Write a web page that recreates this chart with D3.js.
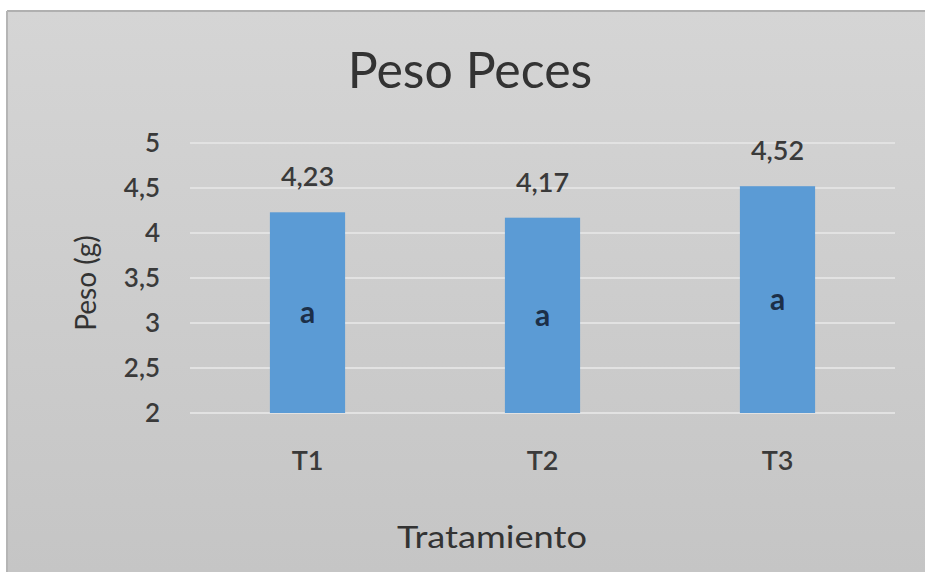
<!DOCTYPE html>
<html><head><meta charset="utf-8">
<script src="https://cdn.jsdelivr.net/npm/d3@7"></script>
<style>body{margin:0;background:#fff}svg{display:block}text{font-family:Lato,"Open Sans",sans-serif;fill:#3a3a3a;font-weight:600}</style>
</head><body><svg id="c" width="925" height="572"></svg>
<script>
const categories = ["T1","T2","T3"];
const values = [4.23, 4.17, 4.52];
const valueLabels = ["4,23","4,17","4,52"];
const letters = ["a","a","a"];
const yTicks = [2,2.5,3,3.5,4,4.5,5];
const yTickLabels = ["2","2,5","3","3,5","4","4,5","5"];

const svg = d3.select("#c");
const defs = svg.append("defs");
const g1 = defs.append("linearGradient").attr("id","bg").attr("x1",0).attr("y1",0).attr("x2",0).attr("y2",1);
g1.append("stop").attr("offset","0%").attr("stop-color","#d5d5d5");
g1.append("stop").attr("offset","100%").attr("stop-color","#c5c5c5");
svg.append("rect").attr("x",7).attr("y",11).attr("width",918).attr("height",561)
  .attr("fill","url(#bg)");
svg.append("line").attr("x1",7).attr("x2",925).attr("y1",11).attr("y2",11).attr("stroke","#b0b0b0").attr("stroke-width",2);
svg.append("line").attr("x1",7).attr("x2",7).attr("y1",11).attr("y2",572).attr("stroke","#b5b5b5").attr("stroke-width",2);

const x = d3.scaleBand().domain(categories).range([190,895]).paddingInner(0.68).paddingOuter(0.34);
const y = d3.scaleLinear().domain([2,5]).range([413,143]);

svg.append("g").selectAll("line").data(yTicks).join("line")
  .attr("x1",190).attr("x2",895).attr("y1",d=>y(d)).attr("y2",d=>y(d))
  .attr("stroke","#e2e2e2").attr("stroke-width",2);

svg.append("g").selectAll("text").data(yTicks).join("text")
  .attr("x",160).attr("y",d=>y(d)).attr("dy","0.36em").attr("text-anchor","end")
  .attr("font-size",26).text((d,i)=>yTickLabels[i]);

svg.append("g").selectAll("rect").data(values).join("rect")
  .attr("x",(d,i)=>x(categories[i])).attr("width",x.bandwidth())
  .attr("y",d=>y(d)).attr("height",d=>y(2)-y(d)).attr("fill","#5b9bd5");

svg.append("g").selectAll("text").data(values).join("text")
  .attr("x",(d,i)=>x(categories[i])+x.bandwidth()/2).attr("y",d=>y(d)-26)
  .attr("text-anchor","middle").attr("font-size",27).text((d,i)=>valueLabels[i]);

svg.append("g").selectAll("text").data(values).join("text")
  .attr("x",(d,i)=>x(categories[i])+x.bandwidth()/2).attr("y",d=>y((d+2)/2))
  .attr("dy","0.36em").attr("text-anchor","middle").attr("font-size",30)
  .style("fill","#1c2f48").style("font-weight","700").text((d,i)=>letters[i]);

svg.append("g").selectAll("text").data(categories).join("text")
  .attr("x",d=>x(d)+x.bandwidth()/2).attr("y",460).attr("dy","0.36em")
  .attr("text-anchor","middle").attr("font-size",27).text(d=>d);

svg.append("text").attr("x",492).attr("y",537).attr("dy","0.36em").attr("text-anchor","middle")
  .attr("font-size",30).attr("textLength",190).attr("lengthAdjust","spacingAndGlyphs")
  .style("font-weight","400").style("fill","#333").text("Tratamiento");

svg.append("text").attr("transform","translate(86,283) rotate(-90)").attr("dy","0.36em")
  .attr("text-anchor","middle").attr("font-size",28).style("font-weight","400").style("fill","#333").text("Peso (g)");

svg.append("text").attr("x",470).attr("y",70).attr("dy","0.36em").attr("text-anchor","middle")
  .attr("font-size",50).style("font-weight","400").style("fill","#333").text("Peso Peces");
</script></body></html>
